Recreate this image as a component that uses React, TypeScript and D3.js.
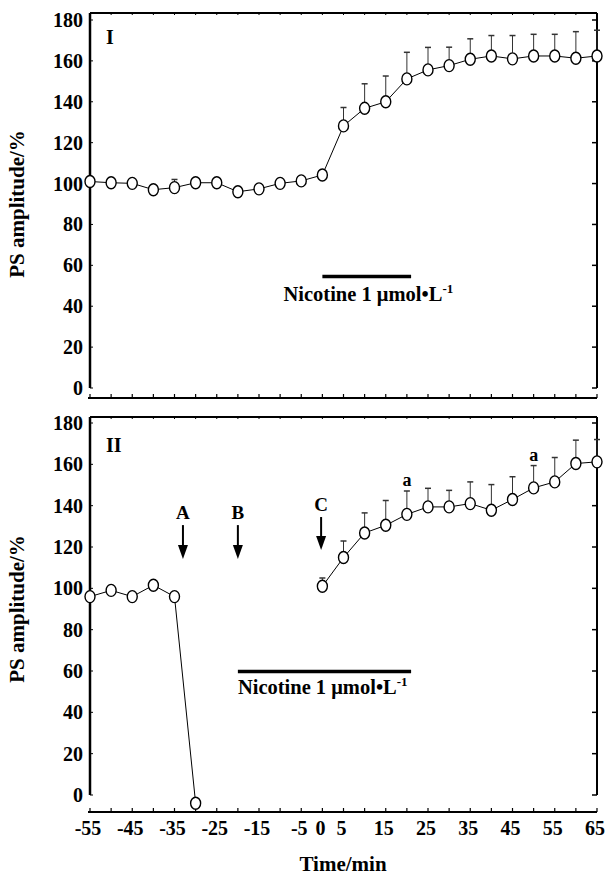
import * as d3 from 'd3';

// time points (min)
const timesI = [-55, -50, -45, -40, -35, -30, -25, -20, -15, -10, -5, 0, 5, 10, 15, 20, 25, 30, 35, 40, 45, 50, 55, 60, 65];
const ampI = [101, 100.4, 100.1, 97, 98, 100.4, 100.4, 96, 97.4, 100.1, 101.3, 104.2, 128.2, 136.8, 140, 151.2, 155.6, 157.7, 160.8, 162.4, 161, 162.4, 162.4, 161.3, 162.4];
const errI = [0, 0, 0, 2, 4, 2, 2, 0, 0, 0, 0, 2, 9, 12, 12.6, 13, 11, 9, 10, 10, 11.4, 10.6, 10.6, 13, 12.6];

const timesIIpre = [-55, -50, -45, -40, -35, -30];
const ampIIpre = [96, 99, 96, 101.5, 96, -4];

const timesIIpost = [0, 5, 10, 15, 20, 25, 30, 35, 40, 45, 50, 55, 60, 65];
const ampIIpost = [101, 114.9, 126.8, 130.5, 135.8, 139.4, 139.4, 141, 137.8, 143, 148.6, 151.5, 160.4, 161.2];
const errIIpost = [4, 8, 9.7, 12, 11.3, 9, 8, 10.5, 12.4, 11, 10.8, 11.8, 11.3, 10.8];

const sigTimes = [20, 50];

const arrowLabels = ['A', 'B', 'C'];
const arrowTimes = [-33, -20, -0.3];
const arrowTops = [130.6, 130.6, 134.5];
const arrowTips = [114.2, 114.2, 118.5];

const xTickLabels = [-55, -45, -35, -25, -15, -5, 0, 5, 15, 25, 35, 45, 55, 65];
const yTickLabels = [0, 20, 40, 60, 80, 100, 120, 140, 160, 180];

const FONT = '"Liberation Serif", serif';

const x = d3.scaleLinear([-55, 65], [90, 597]);
const minorTicks = d3.range(-55, 66, 5);

function Marker({ cx, cy }) {
    return <ellipse cx={cx} cy={cy} rx={5} ry={6} fill="#fff" stroke="#000" strokeWidth={1.4} />;
}

function Panel({ topY, y180, y0, axisY, label, labelY, showXLabels, children }) {
    const y = d3.scaleLinear([0, 180], [y0, y180]);
    const midY = (y0 + y180) / 2;
    return (
        <g>
            {/* frame */}
            <line x1={90} x2={597} y1={topY} y2={topY} stroke="#000" strokeWidth={2} />
            {minorTicks.map((t) => (
                <line key={'tt' + t} x1={x(t)} x2={x(t)} y1={topY} y2={topY + 2} stroke="#000" strokeWidth={1} />
            ))}
            <line x1={90} x2={90} y1={topY} y2={y(0)} stroke="#000" strokeWidth={2.5} />
            <line x1={597} x2={597} y1={topY} y2={y(0)} stroke="#000" strokeWidth={2} />
            <line x1={88} x2={597} y1={axisY} y2={axisY} stroke="#000" strokeWidth={2} />
            {minorTicks.map((t) => (
                <line key={'bt' + t} x1={x(t)} x2={x(t)} y1={axisY} y2={axisY - 4} stroke="#000" strokeWidth={1.2} />
            ))}
            {yTickLabels.map((v) => (
                <g key={'y' + v}>
                    <line x1={90} x2={93} y1={y(v)} y2={y(v)} stroke="#000" strokeWidth={1} />
                    <line x1={597} x2={592} y1={y(v)} y2={y(v)} stroke="#000" strokeWidth={1.5} />
                    <text x={83} y={y(v)} dy="0.35em" textAnchor="end" fontSize={20}>{v}</text>
                </g>
            ))}
            {showXLabels && xTickLabels.map((t) => (
                <text key={'x' + t} x={x(t) - 2} y={axisY + 23} textAnchor="middle" fontSize={20}>{t}</text>
            ))}
            <text transform={`translate(24,${midY}) rotate(-90)`} textAnchor="middle" fontSize={21}>PS amplitude/%</text>
            <text x={106} y={labelY} fontSize={20}>{label}</text>
            {children(y)}
        </g>
    );
}

function Series({ y, times, values, errors }) {
    const line = d3.line().x((d) => x(d[0])).y((d) => y(d[1]));
    const pts = times.map((t, i) => [t, values[i]]);
    return (
        <g>
            <path d={line(pts)} fill="none" stroke="#000" strokeWidth={1} />
            {errors && pts.map(([t, v], i) => errors[i] > 0 && (
                <g key={'e' + t} stroke="#333" strokeWidth={1}>
                    <line x1={x(t)} x2={x(t)} y1={y(v) - 6} y2={y(v + errors[i])} />
                    <line x1={x(t) - 3} x2={x(t) + 3} y1={y(v + errors[i])} y2={y(v + errors[i])} strokeWidth={1.5} />
                </g>
            ))}
            {pts.map(([t, v]) => <Marker key={'m' + t} cx={x(t)} cy={y(v)} />)}
        </g>
    );
}

function Nicotine({ y, from, to, barV, textFrom, textV }) {
    return (
        <g>
            <line x1={x(from)} x2={x(to)} y1={y(barV)} y2={y(barV)} stroke="#000" strokeWidth={3.5} />
            <text x={x(textFrom)} y={y(textV)} fontSize={20.5}>
                Nicotine 1 μmol•L<tspan fontSize={13} dy={-8}>-1</tspan>
            </text>
        </g>
    );
}

export default function App() {
    return (
        <svg
            width={608}
            height={877}
            style={{ position: 'absolute', left: 0, top: 0, background: '#fff', fontFamily: FONT, fontWeight: 'bold' }}
        >
            <Panel topY={13} y180={20} y0={388} axisY={398} label="I" labelY={44} showXLabels={false}>
                {(y) => (
                    <g>
                        <Series y={y} times={timesI} values={ampI} errors={errI} />
                        <Nicotine y={y} from={0} to={21} barV={54.5} textFrom={-9.2} textV={42.6} />
                    </g>
                )}
            </Panel>
            <Panel topY={417} y180={423} y0={795} axisY={812} label="II" labelY={452} showXLabels={true}>
                {(y) => (
                    <g>
                        <Series y={y} times={timesIIpre} values={ampIIpre} />
                        <Series y={y} times={timesIIpost} values={ampIIpost} errors={errIIpost} />
                        {sigTimes.map((t) => {
                            const i = timesIIpost.indexOf(t);
                            return (
                                <text key={'a' + t} x={x(t)} y={y(ampIIpost[i] + errIIpost[i]) - 5} textAnchor="middle" fontSize={18}>a</text>
                            );
                        })}
                        {arrowLabels.map((lab, i) => {
                            const ax = x(arrowTimes[i]);
                            const top = y(arrowTops[i]);
                            const tip = y(arrowTips[i]);
                            return (
                                <g key={lab}>
                                    <text x={ax} y={top - 6} textAnchor="middle" fontSize={19}>{lab}</text>
                                    <line x1={ax} x2={ax} y1={top} y2={tip - 12} stroke="#000" strokeWidth={2} />
                                    <path d={`M${ax - 5},${tip - 14}L${ax + 5},${tip - 14}L${ax},${tip}Z`} fill="#000" />
                                </g>
                            );
                        })}
                        <Nicotine y={y} from={-20} to={21} barV={59.7} textFrom={-20} textV={48.9} />
                    </g>
                )}
            </Panel>
            <text x={343} y={871} textAnchor="middle" fontSize={21}>Time/min</text>
        </svg>
    );
}
